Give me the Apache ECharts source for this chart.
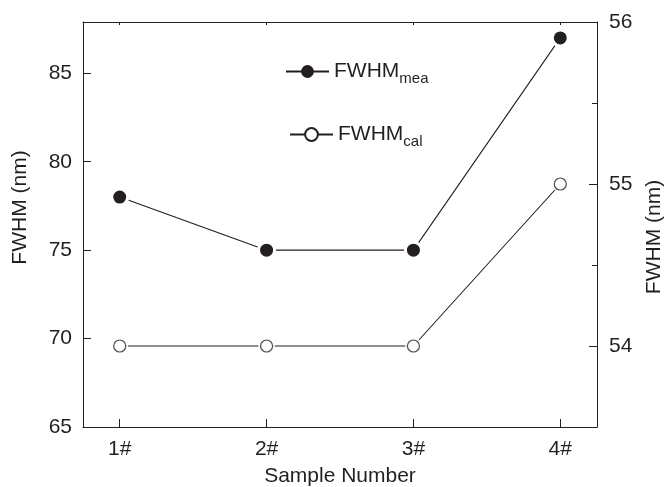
<!DOCTYPE html>
<html><head><meta charset="utf-8">
<script src="https://cdn.jsdelivr.net/npm/echarts@6/dist/echarts.min.js"></script>
<style>html,body{margin:0;padding:0;background:#fff}#c{width:666px;height:487px}</style>
</head><body><div id="c"></div>
<script>
const categories = ['1#', '2#', '3#', '4#'];
const samplePositions = [1, 2, 3, 4];
const fwhmMea = [78, 75, 75, 87];
const fwhmCal = [54, 54, 54, 55];
const leftTicks = [65, 70, 75, 80, 85];
const rightTicks = [54, 55, 56];
const rightMinorTicks = [54.5, 55.5];

const INK = '#231f20';
const FONT = 'Liberation Sans';

const meaData = samplePositions.map((x, i) => [x, fwhmMea[i]]);
const calData = samplePositions.map((x, i) => [x, fwhmCal[i]]);

const chart = echarts.init(document.getElementById('c'), null, {renderer: 'canvas'});

const legendRich = {
  a: {fontFamily: FONT, fontSize: 21, color: INK, lineHeight: 21, verticalAlign: 'top'},
  b: {fontFamily: FONT, fontSize: 15, color: INK, lineHeight: 15, padding: [10, 0, 0, 0], verticalAlign: 'top'}
};
const legendFormatter = name => name === 'FWHM_mea' ? '{a|FWHM}{b|mea}' : '{a|FWHM}{b|cal}';

chart.setOption({
  animation: false,
  backgroundColor: '#fff',
  grid: {left: 83, top: 22, width: 514, height: 405, containLabel: false, outerBoundsMode: 'none'},
  legend: [
    {
      data: ['FWHM_mea'], left: 285, top: 61, padding: 0, itemWidth: 43, itemHeight: 16,
      formatter: legendFormatter, textStyle: {rich: legendRich, color: INK},
      itemStyle: {borderWidth: 0}
    },
    {
      data: ['FWHM_cal'], left: 289, top: 124, padding: 0, itemWidth: 43, itemHeight: 16,
      formatter: legendFormatter, textStyle: {rich: legendRich, color: INK}
    }
  ],
  xAxis: [
    {
      type: 'value', min: 0.75, max: 4.25, position: 'bottom',
      name: 'Sample Number', nameLocation: 'middle', nameGap: 39,
      nameTextStyle: {fontFamily: FONT, fontSize: 21, color: INK},
      axisLine: {show: true, lineStyle: {color: INK, width: 1}},
      axisTick: {show: true, inside: true, length: 8, customValues: samplePositions, lineStyle: {color: INK}},
      axisLabel: {show: true, margin: 12, customValues: samplePositions, fontFamily: FONT, fontSize: 21, color: INK,
        formatter: v => categories[samplePositions.indexOf(v)] || ''},
      splitLine: {show: false}
    },
    {
      type: 'value', min: 0.75, max: 4.25, position: 'top',
      axisLine: {show: true, lineStyle: {color: INK, width: 1}},
      axisTick: {show: true, inside: true, length: 3, customValues: samplePositions, lineStyle: {color: INK}},
      axisLabel: {show: false},
      splitLine: {show: false}
    }
  ],
  yAxis: [
    {
      type: 'value', min: 65, max: 87.9, position: 'left',
      name: 'FWHM (nm)', nameLocation: 'middle', nameGap: 52, nameRotate: 90,
      nameTextStyle: {fontFamily: FONT, fontSize: 21, color: INK, padding: [0, 0, 0, 34]},
      axisLine: {show: true, lineStyle: {color: INK, width: 1}},
      axisTick: {show: true, inside: true, length: 8, customValues: leftTicks, lineStyle: {color: INK}},
      axisLabel: {show: true, margin: 11, customValues: leftTicks, fontFamily: FONT, fontSize: 21, color: INK},
      splitLine: {show: false}
    },
    {
      type: 'value', min: 53.5, max: 56, position: 'right',
      name: 'FWHM (nm)', nameLocation: 'middle', nameGap: 45, nameRotate: 90,
      nameTextStyle: {fontFamily: FONT, fontSize: 21, color: INK, padding: [0, 25, 0, 0]},
      axisLine: {show: true, lineStyle: {color: INK, width: 1}},
      axisTick: {show: true, inside: true, length: 8, customValues: rightTicks, lineStyle: {color: INK}},
      axisLabel: {show: true, margin: 12, customValues: rightTicks, fontFamily: FONT, fontSize: 21, color: INK},
      splitLine: {show: false}
    },
    {
      type: 'value', min: 53.5, max: 56, position: 'right',
      axisLine: {show: false},
      axisTick: {show: true, inside: true, length: 5, customValues: rightMinorTicks, lineStyle: {color: INK}},
      axisLabel: {show: false},
      splitLine: {show: false}
    }
  ],
  series: [
    {
      name: 'FWHM_mea', type: 'line', xAxisIndex: 0, yAxisIndex: 0, data: meaData,
      symbol: 'circle', symbolSize: 16, z: 5,
      lineStyle: {color: INK, width: 1.1},
      itemStyle: {color: INK, borderColor: '#fff', borderWidth: 3}
    },
    {
      name: 'FWHM_cal', type: 'line', xAxisIndex: 0, yAxisIndex: 1, data: calData,
      symbol: 'circle', symbolSize: 12, showSymbol: false, z: 2,
      lineStyle: {color: INK, width: 1.1},
      itemStyle: {color: '#fff', borderColor: INK, borderWidth: 1.2}
    },
    {
      name: 'calGap', type: 'scatter', xAxisIndex: 0, yAxisIndex: 1, data: calData,
      symbol: 'circle', symbolSize: 17, z: 3, silent: true,
      itemStyle: {color: '#fff', borderWidth: 0}
    },
    {
      name: 'calMarker', type: 'scatter', xAxisIndex: 0, yAxisIndex: 1, data: calData,
      symbol: 'circle', symbolSize: 12, z: 4, silent: true,
      itemStyle: {color: '#fff', borderColor: INK, borderWidth: 1.2}
    }
  ]
});
</script>
</body></html>
